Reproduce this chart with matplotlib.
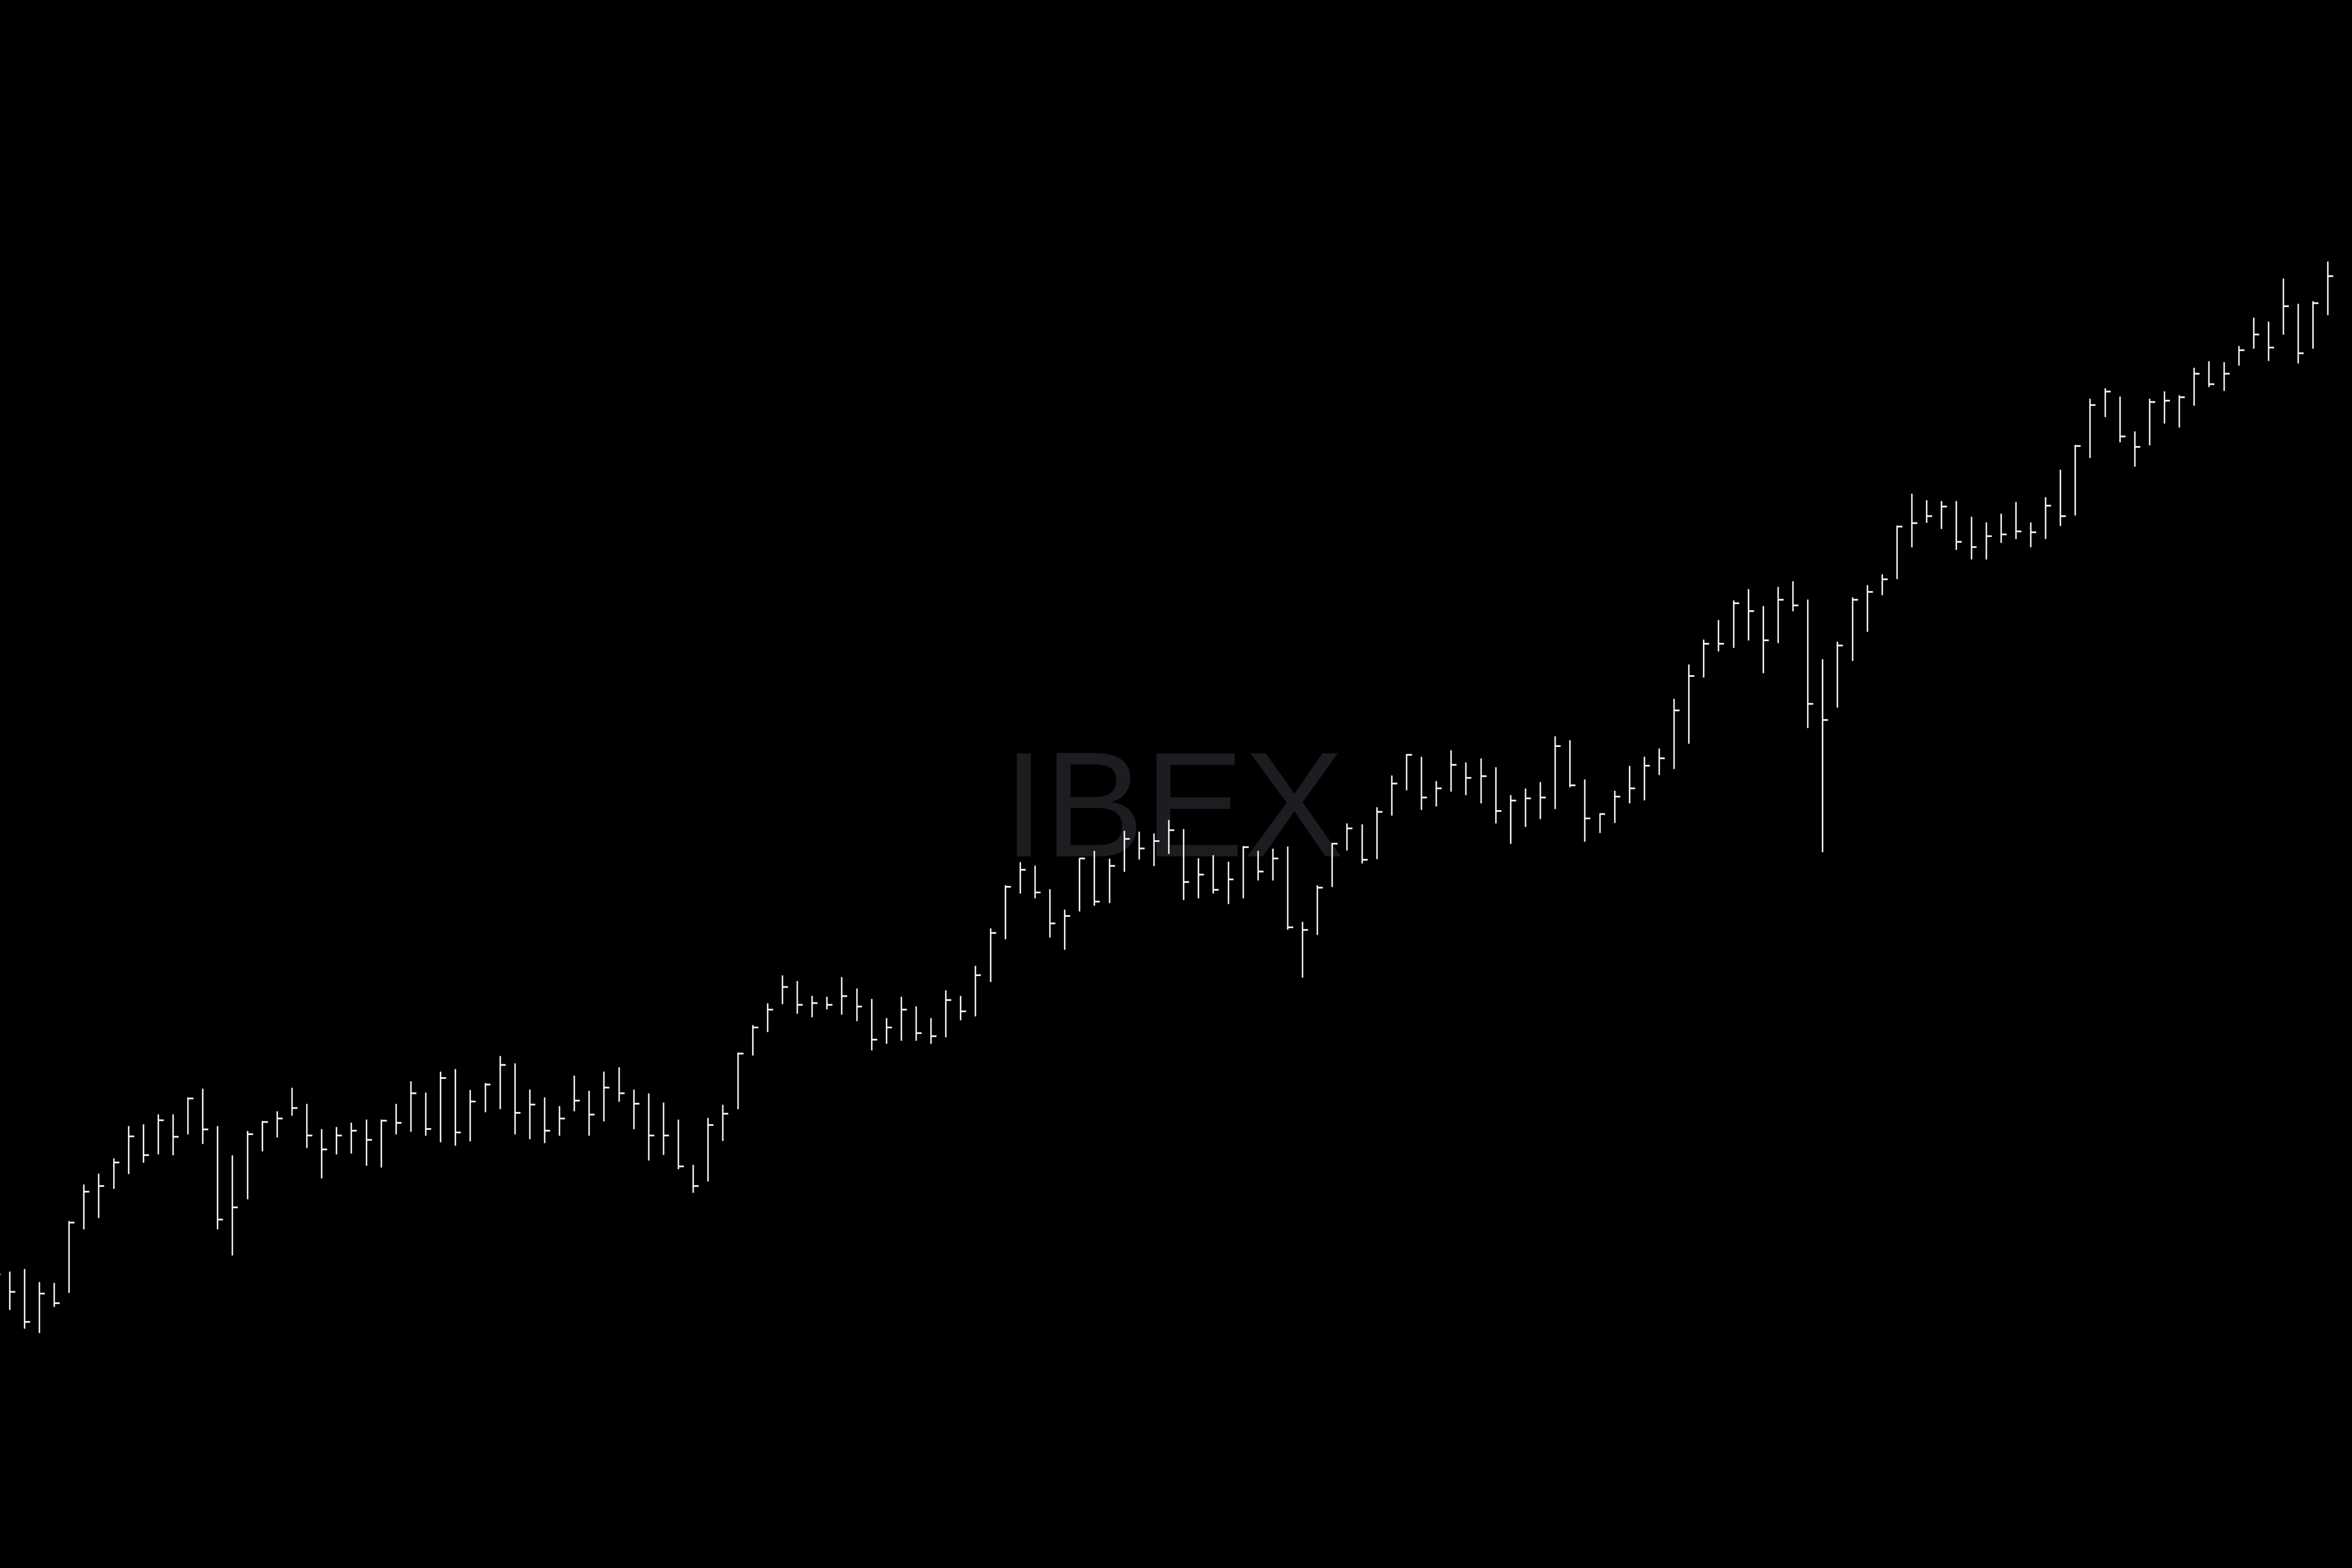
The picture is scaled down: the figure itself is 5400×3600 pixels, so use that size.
import numpy as np
import matplotlib
matplotlib.use('Agg')
import matplotlib.pyplot as plot

# IBEX daily bars (high / low / close)
highs = [9120, 9081, 9087, 9057, 9055, 9197, 9281, 9306, 9341, 9415,
         9419, 9442, 9442, 9481, 9501, 9415, 9348, 9404, 9427, 9449,
         9503, 9466, 9408, 9413, 9423, 9430, 9430, 9466, 9518, 9492,
         9540, 9546, 9498, 9514, 9576, 9559, 9499, 9481, 9461, 9531,
         9496, 9540, 9550, 9499, 9490, 9469, 9430, 9326, 9434, 9464,
         9584, 9647, 9697, 9761, 9748, 9714, 9712, 9757, 9731, 9707,
         9663, 9712, 9690, 9663, 9727, 9714, 9783, 9869, 9968, 10021,
         10013, 9959, 9912, 10030, 10047, 10029, 10093, 10091, 10087, 10118,
         10097, 10030, 10037, 10022, 10058, 10047, 10052, 10057, 9884, 9968,
         10065, 10110, 10108, 10147, 10220, 10269, 10263, 10207, 10278, 10250,
         10259, 10239, 10175, 10190, 10205, 10310, 10301, 10211, 10133, 10185,
         10242, 10263, 10282, 10396, 10475, 10532, 10577, 10622, 10648, 10609,
         10653, 10666, 10624, 10487, 10527, 10629, 10657, 10682, 10794, 10867,
         10852, 10850, 10850, 10814, 10801, 10821, 10848, 10801, 10859, 10922,
         10979, 11085, 11109, 11090, 11010, 11085, 11102, 11093, 11156, 11171,
         11169, 11206, 11271, 11262, 11361, 11303, 11309, 11400]

lows = [9040, 8993, 8950, 8940, 9000, 9032, 9178, 9204, 9271, 9305,
        9331, 9350, 9348, 9396, 9374, 9178, 9118, 9247, 9357, 9389,
        9439, 9365, 9295, 9350, 9352, 9324, 9320, 9396, 9402, 9393,
        9378, 9370, 9380, 9447, 9454, 9396, 9385, 9376, 9393, 9449,
        9393, 9426, 9471, 9408, 9336, 9349, 9316, 9262, 9288, 9381,
        9454, 9577, 9631, 9695, 9673, 9665, 9683, 9671, 9656, 9589,
        9604, 9611, 9611, 9604, 9619, 9658, 9667, 9746, 9844, 9949,
        9938, 9848, 9820, 9908, 9921, 9927, 9999, 10027, 10012, 10040,
        9934, 9938, 9949, 9925, 9938, 9979, 9979, 9866, 9756, 9854,
        9964, 10048, 10018, 10028, 10128, 10186, 10141, 10149, 10183, 10175,
        10156, 10110, 10063, 10102, 10120, 10143, 10193, 10068, 10088, 10111,
        10156, 10163, 10221, 10235, 10293, 10445, 10505, 10513, 10530, 10455,
        10524, 10597, 10329, 10044, 10376, 10483, 10550, 10634, 10671, 10744,
        10800, 10786, 10738, 10716, 10716, 10754, 10763, 10744, 10763, 10793,
        10817, 10949, 11043, 10985, 10929, 10978, 11028, 11019, 11069, 11112,
        11103, 11161, 11200, 11172, 11232, 11166, 11200, 11277]

closes = [9074, 9034, 8965, 9030, 9008, 9193, 9264, 9277, 9331, 9391,
          9348, 9428, 9390, 9478, 9407, 9200, 9228, 9396, 9424, 9432,
          9456, 9393, 9361, 9393, 9404, 9383, 9427, 9422, 9490, 9408,
          9525, 9400, 9471, 9510, 9555, 9445, 9464, 9404, 9432, 9473,
          9441, 9503, 9490, 9466, 9393, 9393, 9322, 9277, 9417, 9443,
          9581, 9641, 9682, 9734, 9693, 9697, 9693, 9713, 9689, 9613,
          9641, 9682, 9628, 9621, 9704, 9678, 9761, 9858, 9964, 10003,
          9951, 9880, 9897, 10029, 9930, 10012, 10074, 10052, 10069, 10094,
          9975, 9992, 9957, 9981, 10055, 9999, 10029, 9871, 9865, 9962,
          10063, 10098, 10026, 10136, 10201, 10267, 10169, 10190, 10244, 10214,
          10218, 10138, 10162, 10167, 10169, 10287, 10197, 10121, 10131, 10171,
          10190, 10242, 10259, 10369, 10448, 10522, 10522, 10615, 10597, 10530,
          10623, 10610, 10384, 10347, 10518, 10623, 10641, 10670, 10791, 10799,
          10815, 10837, 10756, 10744, 10769, 10773, 10780, 10778, 10839, 10815,
          10976, 11070, 11101, 10998, 10974, 11077, 11080, 11088, 11142, 11118,
          11142, 11196, 11232, 11202, 11297, 11189, 11304, 11366]

symbol = 'IBEX'

positions = np.arange(len(highs))
tickLength = 0.38

figure = plot.figure(figsize=(18, 12), dpi=300, facecolor='black')
axis = figure.add_axes([0, 0, 1, 1])
axis.set_facecolor('black')

# watermark behind the bars
axis.text(0.4989, 0.4538, symbol, transform=axis.transAxes, ha='center', va='baseline',
          fontsize=82.5, family=['Liberation Sans', 'DejaVu Sans'], color='#1c1d21', zorder=0)

# high-low bars with a close tick on the right (no open tick)
axis.vlines(positions, lows, highs, colors='white', linewidth=0.8, zorder=2)
axis.hlines(closes, positions, positions + tickLength, colors='white', linewidth=0.9, zorder=2)

axis.set_xlim(0.364, 158.63)
axis.set_ylim(8400, 12000)
axis.axis('off')

figure.savefig('out.png', dpi=300, facecolor='black')
